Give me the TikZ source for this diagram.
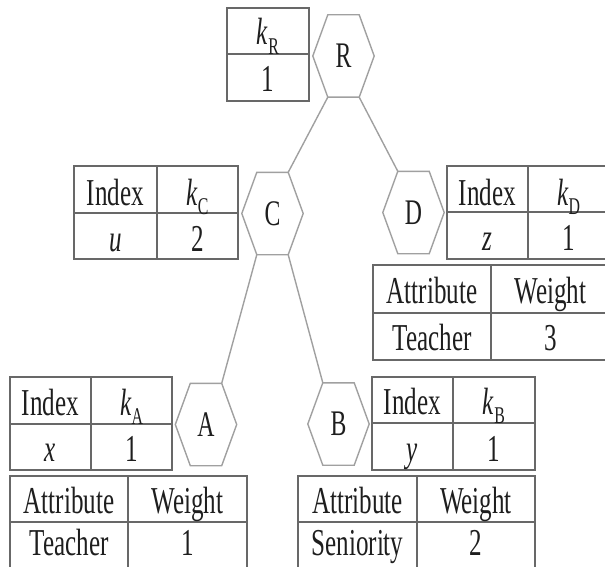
\documentclass[tikz,border=0pt]{standalone}
\usepackage{fontspec}
\setmainfont{Liberation Serif}
\usetikzlibrary{calc}
\definecolor{tabline}{HTML}{686868}
\definecolor{hexline}{HTML}{A0A0A0}
\definecolor{ink}{HTML}{1E1E1E}
\newcommand\sx[1]{\scalebox{0.66}[1]{#1}}
\newcommand\ksub[1]{\textit{k}\raisebox{-0.25em}{\fontsize{24}{24}\selectfont #1}}
\newcommand\hexag[3]{%
  \node[hexnode] (#1) at (#2) {\sx{#3}};
  \coordinate (#1-tl) at ([xshift=15pt]#1.north west);
  \coordinate (#1-tr) at ([xshift=-15pt]#1.north east);
  \coordinate (#1-bl) at ([xshift=15pt]#1.south west);
  \coordinate (#1-br) at ([xshift=-15pt]#1.south east);
  \draw[hexedge] (#1.west) -- (#1-tl) -- (#1-tr) -- (#1.east) -- (#1-br) -- (#1-bl) -- cycle;}
\begin{document}
\begin{tikzpicture}[x=1pt,y=-1pt,
  tab/.style={draw=tabline, line width=1.6pt},
  txt/.style={anchor=base, inner sep=0pt, text=ink, font=\fontsize{38}{38}\selectfont},
  hexnode/.style={minimum width=61pt, minimum height=82pt, inner sep=0pt, text=ink, font=\fontsize{36}{36}\selectfont},
  hexedge/.style={draw=hexline, line width=1.4pt}]
\useasboundingbox (0,0) rectangle (605,567);
\clip (0,0) rectangle (605,567);

% hexagons
\hexag{R}{343.5,56}{R}
\hexag{C}{272.5,213.5}{C}
\hexag{D}{413.5,212.5}{D}
\hexag{A}{206,424.5}{A}
\hexag{B}{338.5,424}{B}

% edges
\draw[hexedge] (R-bl) -- (C-tr);
\draw[hexedge] (R-br) -- (D-tl);
\draw[hexedge] (C-bl) -- (A-tr);
\draw[hexedge] (C-br) -- (B-tl);

% table R
\draw[tab] (227,8) rectangle (309,101) (227,54) -- (309,54);
\node[txt] (r1) at (268,45) {\sx{\ksub{R}}};
\node[txt] (r2) at (268,92) {\sx{1}};

% table C
\draw[tab] (74,166) rectangle (238,259) (74,213) -- (238,213) (157,166) -- (157,259);
\node[txt] (c11) at (115.5,205) {\sx{Index}};
\node[txt] (c12) at (197.5,205) {\sx{\ksub{C}}};
\node[txt] (c21) at (115.5,251) {\sx{\textit{u}}};
\node[txt] (c22) at (197.5,251) {\sx{2}};

% table D
\draw[tab] (447,166) rectangle (609,259) (447,212) -- (609,212) (528,166) -- (528,259);
\node[txt] (d11) at (487.5,205) {\sx{Index}};
\node[txt] (d12) at (568.5,205) {\sx{\ksub{D}}};
\node[txt] (d21) at (487.5,250) {\sx{\textit{z}}};
\node[txt] (d22) at (568.5,250) {\sx{1}};

% table D attributes
\draw[tab] (373,265) rectangle (610,360) (373,313) -- (610,313) (491,265) -- (491,360);
\node[txt] (e11) at (432,303) {\sx{Attribute}};
\node[txt] (e12) at (550.5,303) {\sx{Weight}};
\node[txt] (e21) at (432,350) {\sx{Teacher}};
\node[txt] (e22) at (550.5,350) {\sx{3}};

% table A
\draw[tab] (10,377) rectangle (172,470) (10,424) -- (172,424) (91,377) -- (91,470);
\node[txt] (a11) at (50.5,415) {\sx{Index}};
\node[txt] (a12) at (131.5,415) {\sx{\ksub{A}}};
\node[txt] (a21) at (50.5,461) {\sx{\textit{x}}};
\node[txt] (a22) at (131.5,461) {\sx{1}};

% table A attributes
\draw[tab] (10,476) rectangle (247,569) (10,522) -- (247,522) (128,476) -- (128,569);
\node[txt] (f11) at (69,513) {\sx{Attribute}};
\node[txt] (f12) at (187.5,513) {\sx{Weight}};
\node[txt] (f21) at (69,555) {\sx{Teacher}};
\node[txt] (f22) at (187.5,555) {\sx{1}};

% table B
\draw[tab] (372,377) rectangle (535,470) (372,423) -- (535,423) (453,377) -- (453,470);
\node[txt] (b11) at (412.5,414) {\sx{Index}};
\node[txt] (b12) at (494,414) {\sx{\ksub{B}}};
\node[txt] (b21) at (412.5,461) {\sx{\textit{y}}};
\node[txt] (b22) at (494,461) {\sx{1}};

% table B attributes
\draw[tab] (298,476) rectangle (535,569) (298,522) -- (535,522) (417,476) -- (417,569);
\node[txt] (g11) at (357.5,513) {\sx{Attribute}};
\node[txt] (g12) at (476,513) {\sx{Weight}};
\node[txt] (g21) at (357.5,555) {\sx{Seniority}};
\node[txt] (g22) at (476,555) {\sx{2}};
\end{tikzpicture}
\end{document}
